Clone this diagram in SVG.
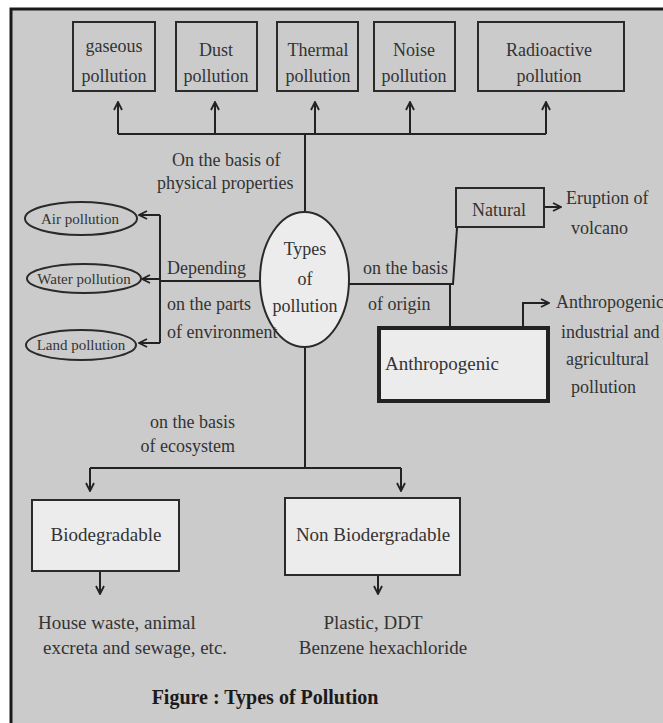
<svg xmlns="http://www.w3.org/2000/svg" width="663" height="723" viewBox="0 0 663 723">
<defs>
<marker id="ah" viewBox="0 0 10 10" refX="9" refY="5" markerWidth="10" markerHeight="10" markerUnits="userSpaceOnUse" orient="auto">
<path d="M1,1 L9,5 L1,9" fill="none" stroke="#222" stroke-width="1.8"/>
</marker>
</defs>
<style>
text{font-family:"Liberation Serif","Times New Roman",serif;fill:#333;font-size:18px}
.box{fill:none;stroke:#2a2a2a;stroke-width:2}
.lbox{fill:#ececec;stroke:#2a2a2a;stroke-width:2}
.con{fill:none;stroke:#222;stroke-width:2}
.arr{fill:none;stroke:#222;stroke-width:2;marker-end:url(#ah)}
.m{text-anchor:middle}
.s{font-size:15px}
.b{font-size:19px}
</style>
<rect x="0" y="0" width="663" height="723" fill="#ffffff"/>
<rect x="11" y="9" width="652" height="714" fill="#cbcbcb"/>
<path d="M11,723 L11,9 L663,9" fill="none" stroke="#1a1a1a" stroke-width="3"/>

<g id="connectors">
<path class="con" d="M118,134 L546,134"/>
<path class="arr" d="M118,134 L118,102"/>
<path class="arr" d="M215,134 L215,102"/>
<path class="arr" d="M315,134 L315,102"/>
<path class="arr" d="M410,134 L410,102"/>
<path class="arr" d="M546,134 L546,102"/>
<path class="con" d="M305,134 L305,212"/>
<path class="con" d="M260,281 L160,281"/>
<path class="con" d="M160,215 L160,343"/>
<path class="arr" d="M160,215 L139,215"/>
<path class="arr" d="M160,279 L142,279"/>
<path class="arr" d="M160,343 L139,343"/>
<path class="con" d="M349,284 L453,284 L457,228"/>
<path class="con" d="M450,284 L450,327"/>
<path class="arr" d="M544,207 L561,207"/>
<path class="arr" d="M523,327 L523,303 L549,303"/>
<path class="con" d="M305,347 L305,468"/>
<path class="con" d="M90,468 L401,468"/>
<path class="arr" d="M90,468 L90,491"/>
<path class="arr" d="M401,468 L401,491"/>
<path class="arr" d="M100,571 L100,594"/>
<path class="arr" d="M378,575 L378,594"/>
</g>

<g id="gaseous">
<rect class="box" x="73" y="22" width="82" height="69"/>
<text class="m" x="114" y="52">gaseous</text>
<text class="m" x="114" y="82">pollution</text>
</g>
<g id="dust">
<rect class="box" x="176" y="22" width="81" height="69"/>
<text class="m" x="216" y="56">Dust</text>
<text class="m" x="216" y="82">pollution</text>
</g>
<g id="thermal">
<rect class="box" x="277" y="22" width="81" height="69"/>
<text class="m" x="318" y="56">Thermal</text>
<text class="m" x="318" y="82">pollution</text>
</g>
<g id="noise">
<rect class="box" x="374" y="22" width="81" height="69"/>
<text class="m" x="414" y="56">Noise</text>
<text class="m" x="414" y="82">pollution</text>
</g>
<g id="radioactive">
<rect class="box" x="478" y="22" width="146" height="69"/>
<text class="m" x="549" y="56">Radioactive</text>
<text class="m" x="549" y="82">pollution</text>
</g>

<g id="label-physical">
<text x="172" y="166">On the basis of</text>
<text x="157" y="189">physical properties</text>
</g>

<g id="types">
<ellipse cx="304.5" cy="279.5" rx="44.5" ry="67.5" fill="#ececec" stroke="#2a2a2a" stroke-width="2"/>
<text class="m" x="305" y="255">Types</text>
<text class="m" x="305" y="285">of</text>
<text class="m" x="305" y="312">pollution</text>
</g>

<g id="air">
<ellipse cx="81" cy="218.5" rx="56" ry="16.5" fill="none" stroke="#2a2a2a" stroke-width="2"/>
<text class="m s" x="80" y="224">Air pollution</text>
</g>
<g id="water">
<ellipse cx="84" cy="278.5" rx="57" ry="14.5" fill="none" stroke="#2a2a2a" stroke-width="2"/>
<text class="m s" x="84" y="284">Water pollution</text>
</g>
<g id="land">
<ellipse cx="81" cy="345" rx="55" ry="15" fill="none" stroke="#2a2a2a" stroke-width="2"/>
<text class="m s" x="81" y="350">Land pollution</text>
</g>

<g id="label-parts">
<text x="167" y="274">Depending</text>
<text x="167" y="310">on the parts</text>
<text x="167" y="338">of environment</text>
</g>

<g id="label-origin">
<text x="363" y="274">on the basis</text>
<text x="368" y="310">of origin</text>
</g>

<g id="natural">
<rect class="box" x="456" y="188" width="88" height="39"/>
<text class="m" x="499" y="216">Natural</text>
</g>
<g id="eruption">
<text x="566" y="204">Eruption of</text>
<text x="571" y="234">volcano</text>
</g>

<g id="anthropogenic">
<rect x="379" y="328" width="169" height="73" fill="#ececec" stroke="#222" stroke-width="4"/>
<text class="b" x="385" y="370">Anthropogenic</text>
</g>
<g id="anthro-desc">
<text x="556" y="308">Anthropogenic</text>
<text x="561" y="338">industrial and</text>
<text x="566" y="365">agricultural</text>
<text x="571" y="393">pollution</text>
</g>

<g id="label-ecosystem">
<text x="235" y="428" text-anchor="end">on the basis</text>
<text x="235" y="452" text-anchor="end">of ecosystem</text>
</g>

<g id="biodegradable">
<rect class="lbox" x="32" y="500" width="147" height="71"/>
<text class="m b" x="106" y="541">Biodegradable</text>
</g>
<g id="nonbiodegradable">
<rect class="lbox" x="285" y="498" width="175" height="77"/>
<text class="m b" x="373" y="541">Non Biodergradable</text>
</g>

<g id="bio-examples">
<text class="b" x="38" y="629">House waste, animal</text>
<text class="b" x="43" y="654">excreta and sewage, etc.</text>
</g>
<g id="nonbio-examples">
<text class="m b" x="373" y="629">Plastic, DDT</text>
<text class="m b" x="383" y="654">Benzene hexachloride</text>
</g>

<g id="caption">
<text class="m" x="265" y="704" style="font-weight:bold;font-size:20px;fill:#1a1a1a">Figure : Types of Pollution</text>
</g>
</svg>
